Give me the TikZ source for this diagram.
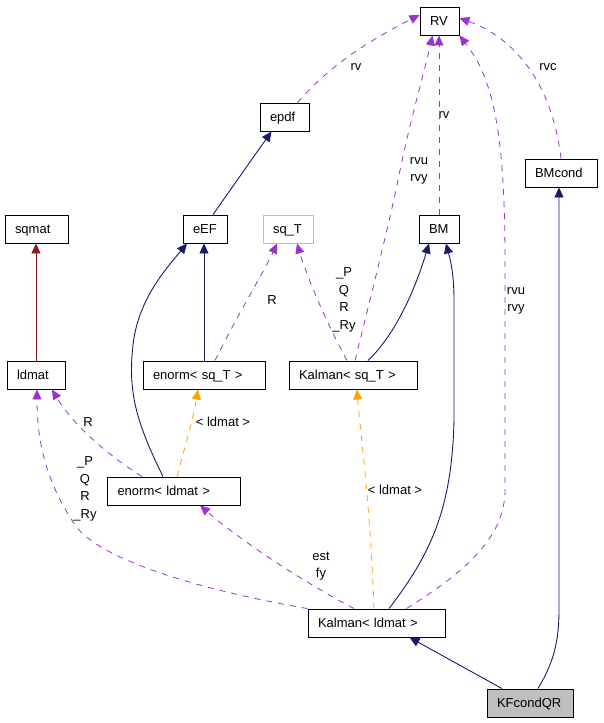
\documentclass[tikz,border=0pt]{standalone}
\usepackage{fontspec}
\setmainfont{Liberation Sans}
\usetikzlibrary{arrows.meta}
\definecolor{usecol}{HTML}{9A32CD}
\definecolor{inhcol}{HTML}{191970}
\definecolor{tplcol}{HTML}{FFA500}
\definecolor{privcol}{HTML}{8B1A1A}
\definecolor{greycol}{HTML}{BFBFBF}
\begin{document}
\begin{tikzpicture}[x=1pt,y=-1pt,
    font=\fontsize{13}{17.5}\selectfont,
    cls/.style={draw,line width=0.9pt,inner xsep=10pt,inner ysep=0pt,minimum height=28pt,
      text height=9.3pt,text depth=0pt,align=left},
    lbl/.style={inner sep=0pt,align=center},
    tip/.style={-{Triangle[length=10pt,width=9pt]}},
    inh/.style={tip,inhcol,line width=0.9pt},
    use/.style={tip,usecol,line width=0.8pt,dash pattern=on 6pt off 6pt},
    tpl/.style={tip,tplcol,line width=0.8pt,dash pattern=on 6pt off 6pt}]
  \useasboundingbox (0,0) rectangle (603,723);
  \node[cls,text width=19pt] (rv) at (439.5,21) {RV};
  \node[cls,text width=29pt] (epdf) at (284.5,117) {epdf};
  \node[cls,text width=52pt] (bmcond) at (561,173) {BMcond};
  \node[cls,text width=43pt] (sqmat) at (36.5,229) {sqmat};
  \node[cls,text width=24pt] (eef) at (205,229) {eEF};
  \node[cls,text width=30pt,draw=greycol] (sqt) at (288,229) {sq\_T};
  \node[cls,text width=20pt] (bm) at (439,229) {BM};
  \node[cls,text width=38pt] (ldmat) at (36,375) {ldmat};
  \node[cls,text width=102pt] (enormsq) at (204,375) {enorm< sq\_T >};
  \node[cls,text width=108pt] (kalmansq) at (353,375) {Kalman< sq\_T >};
  \node[cls,text width=113pt] (enormld) at (174,491) {enorm< ldmat >};
  \node[cls,text width=117pt] (kalmanld) at (376.5,623) {Kalman< ldmat >};
  \node[cls,text width=66pt,fill=greycol] (kfcond) at (530,703) {KFcondQR};

  % labels
  \node[lbl] (l1) at (356,67) {rv};
  \node[lbl] (l2) at (444,115) {rv};
  \node[lbl] (l3) at (419,171) {rvu\\rvy};
  \node[lbl] (l4) at (548,67) {rvc};
  \node[lbl] (l5) at (272,300) {R};
  \node[lbl] (l6) at (344,300) {\_P\\Q\\R\\\_Ry};
  \node[lbl] (l7) at (516,301) {rvu\\rvy};
  \node[lbl] (l8) at (88,422) {R};
  \node[lbl] (l9) at (223,422) {< ldmat >};
  \node[lbl] (l10) at (85,489) {\_P\\Q\\R\\\_Ry};
  \node[lbl] (l11) at (395,490) {< ldmat >};
  \node[lbl] (l12) at (321,566) {est\\fy};

  % inheritance
  \draw[inh] ([xshift=8]eef.north) -- ([xshift=-13]epdf.south);
  \draw[inh] ([xshift=-11]enormld.north) .. controls (135,420) and (128,390) .. (133,345)
    .. controls (138,300) and (165,270) .. ([xshift=-18]eef.south);
  \draw[inh] (enormsq.north) -- (enormsq.north |- eef.south);
  \draw[inh] ([xshift=15]kalmansq.north) .. controls (395,335) and (415,290) .. ([xshift=-10]bm.south);
  \draw[inh] ([xshift=12.5]kalmanld.north) .. controls (430,555) and (452,510) .. (454,420)
    -- (454,300) .. controls (454,270) and (449,255) .. ([xshift=7]bm.south);
  \draw[inh] ([xshift=-28]kfcond.north) -- ([xshift=33]kalmanld.south);
  \draw[inh] ([xshift=8]kfcond.north) .. controls (552,665) and (559,645) .. (559,610)
    -- ([xshift=-2]bmcond.south);
  \draw[tip,privcol,line width=0.9pt] (ldmat.north) -- (ldmat.north |- sqmat.south);

  % usage
  \draw[use] ([xshift=13]epdf.north) .. controls (330,65) and (370,40) .. ([yshift=6]rv.west);
  \draw[use] (bm.north) -- (bm.north |- rv.south);
  \draw[use] ([xshift=2]kalmansq.north) .. controls (370,300) and (390,220) .. (398,180)
    .. controls (410,120) and (425,70) .. ([xshift=-7]rv.south);
  \draw[use] (bmcond.north) .. controls (553,90) and (520,40) .. ([yshift=3]rv.east);
  \draw[use] ([xshift=30]kalmanld.north) .. controls (460,575) and (505,540) .. (505,490)
    -- (505,260) .. controls (505,120) and (490,75) .. (rv.south east);
  \draw[use] ([xshift=11]enormsq.north) .. controls (240,310) and (265,270) .. ([xshift=-11]sqt.south);
  \draw[use] ([xshift=-6]kalmansq.north) .. controls (320,310) and (305,270) .. ([xshift=9]sqt.south);
  \draw[use] ([xshift=-22.5]kalmanld.north) .. controls (300,580) and (240,540) .. ([xshift=26]enormld.south);
  \draw[use] (kalmanld.north west) .. controls (200,590) and (100,560) .. (75,525)
    .. controls (45,480) and (37,440) .. ([xshift=1]ldmat.south);
  \draw[use] ([xshift=-32]enormld.north) .. controls (100,450) and (70,420) .. ([xshift=16]ldmat.south);

  % templates
  \draw[tpl] ([xshift=-2.5]kalmanld.north) .. controls (370,500) and (360,430) .. ([xshift=4]kalmansq.south);
  \draw[tpl] ([xshift=3]enormld.north) .. controls (184,450) and (193,420) .. ([xshift=-6]enormsq.south);
\end{tikzpicture}
\end{document}
